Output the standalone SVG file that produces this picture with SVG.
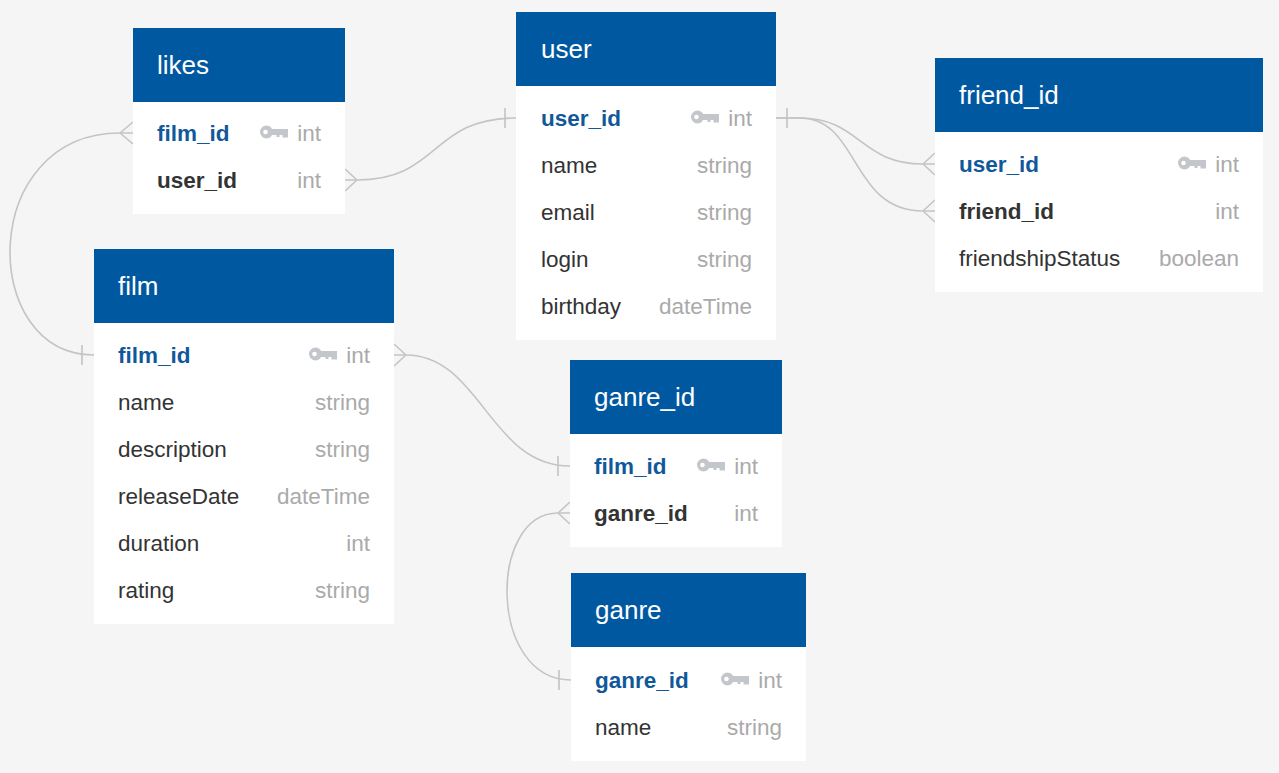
<svg xmlns="http://www.w3.org/2000/svg" width="1279" height="773" viewBox="0 0 1279 773">
<style>
.bg{fill:#f5f5f5}
.body{fill:#ffffff}
.hd{fill:#0059a0}
.ht{font-family:"Liberation Sans",Arial,sans-serif;font-size:26px;fill:#ffffff}
.f{font-family:"Liberation Sans",Arial,sans-serif;font-size:22.5px;fill:#333333}
.pk{font-weight:bold;fill:#11589a}
.fk{font-weight:bold;fill:#333333}
.t{font-family:"Liberation Sans",Arial,sans-serif;font-size:22.5px;fill:#aaaaaa;text-anchor:end}
.c{fill:none;stroke:#c4c4c4;stroke-width:1.6}
</style>
<defs>
<g id="key">
<path d="M6.5,-0.5 A6.5,6.5 0 1 1 6.5,12.5 A6.5,6.5 0 1 1 6.5,-0.5 Z M10,3 H28 V11.5 H22.5 V9 H19.5 V11 H16.5 V9 H10 Z" fill="#c3c6ca"/>
<circle cx="5.5" cy="6" r="2.3" fill="#ffffff"/>
</g>
</defs>
<rect class="bg" x="0" y="0" width="1279" height="773"/>

<g id="connectors">
<path class="c" d="M133,133 H120 C-22,133 -22,355 94,355"/>
<path class="c" d="M120,133 L133,122 M120,133 L133,144 M82,345 V365"/>
<path class="c" d="M345,180 H357 C440,180 430,118 516,118"/>
<path class="c" d="M357,180 L345,169 M357,180 L345,191 M505,108 V128"/>
<path class="c" d="M776,118 H800 C860,118 860,164 923,164 H935"/>
<path class="c" d="M776,118 H800 C860,118 850,211 923,211 H935"/>
<path class="c" d="M787,108 V128 M923,164 L935,153 M923,164 L935,175 M923,211 L935,200 M923,211 L935,222"/>
<path class="c" d="M394,355 H406 C480,355 490,466 570,466"/>
<path class="c" d="M406,355 L394,344 M406,355 L394,366 M558,456 V476"/>
<path class="c" d="M570,513 H558 C488,513 488,680 571,680"/>
<path class="c" d="M558,513 L570,502 M558,513 L570,524 M559,670 V690"/>
</g>

<g id="likes">
<rect class="body" x="133" y="28" width="212" height="186"/>
<rect class="hd" x="133" y="28" width="212" height="74"/>
<text class="ht" x="157" y="74">likes</text>
<text class="f pk" x="157" y="141">film_id</text>
<use href="#key" x="260" y="126"/>
<text class="t" x="321" y="141">int</text>
<text class="f fk" x="157" y="188">user_id</text>
<text class="t" x="321" y="188">int</text>
</g>

<g id="user">
<rect class="body" x="516" y="12" width="260" height="328"/>
<rect class="hd" x="516" y="12" width="260" height="74"/>
<text class="ht" x="541" y="58">user</text>
<text class="f pk" x="541" y="126">user_id</text>
<use href="#key" x="691" y="111"/>
<text class="t" x="752" y="126">int</text>
<text class="f" x="541" y="173">name</text>
<text class="t" x="752" y="173">string</text>
<text class="f" x="541" y="220">email</text>
<text class="t" x="752" y="220">string</text>
<text class="f" x="541" y="267">login</text>
<text class="t" x="752" y="267">string</text>
<text class="f" x="541" y="314">birthday</text>
<text class="t" x="752" y="314">dateTime</text>
</g>

<g id="friend_id">
<rect class="body" x="935" y="58" width="328" height="234"/>
<rect class="hd" x="935" y="58" width="328" height="74"/>
<text class="ht" x="959" y="104">friend_id</text>
<text class="f pk" x="959" y="172">user_id</text>
<use href="#key" x="1178" y="157"/>
<text class="t" x="1239" y="172">int</text>
<text class="f fk" x="959" y="219">friend_id</text>
<text class="t" x="1239" y="219">int</text>
<text class="f" x="959" y="266">friendshipStatus</text>
<text class="t" x="1239" y="266">boolean</text>
</g>

<g id="film">
<rect class="body" x="94" y="249" width="300" height="375"/>
<rect class="hd" x="94" y="249" width="300" height="74"/>
<text class="ht" x="118" y="295">film</text>
<text class="f pk" x="118" y="363">film_id</text>
<use href="#key" x="309" y="348"/>
<text class="t" x="370" y="363">int</text>
<text class="f" x="118" y="410">name</text>
<text class="t" x="370" y="410">string</text>
<text class="f" x="118" y="457">description</text>
<text class="t" x="370" y="457">string</text>
<text class="f" x="118" y="504">releaseDate</text>
<text class="t" x="370" y="504">dateTime</text>
<text class="f" x="118" y="551">duration</text>
<text class="t" x="370" y="551">int</text>
<text class="f" x="118" y="598">rating</text>
<text class="t" x="370" y="598">string</text>
</g>

<g id="ganre_id">
<rect class="body" x="570" y="360" width="212" height="187"/>
<rect class="hd" x="570" y="360" width="212" height="74"/>
<text class="ht" x="594" y="406">ganre_id</text>
<text class="f pk" x="594" y="474">film_id</text>
<use href="#key" x="697" y="459"/>
<text class="t" x="758" y="474">int</text>
<text class="f fk" x="594" y="521">ganre_id</text>
<text class="t" x="758" y="521">int</text>
</g>

<g id="ganre">
<rect class="body" x="571" y="573" width="235" height="188"/>
<rect class="hd" x="571" y="573" width="235" height="74"/>
<text class="ht" x="595" y="619">ganre</text>
<text class="f pk" x="595" y="688">ganre_id</text>
<use href="#key" x="721" y="673"/>
<text class="t" x="782" y="688">int</text>
<text class="f" x="595" y="735">name</text>
<text class="t" x="782" y="735">string</text>
</g>
</svg>
